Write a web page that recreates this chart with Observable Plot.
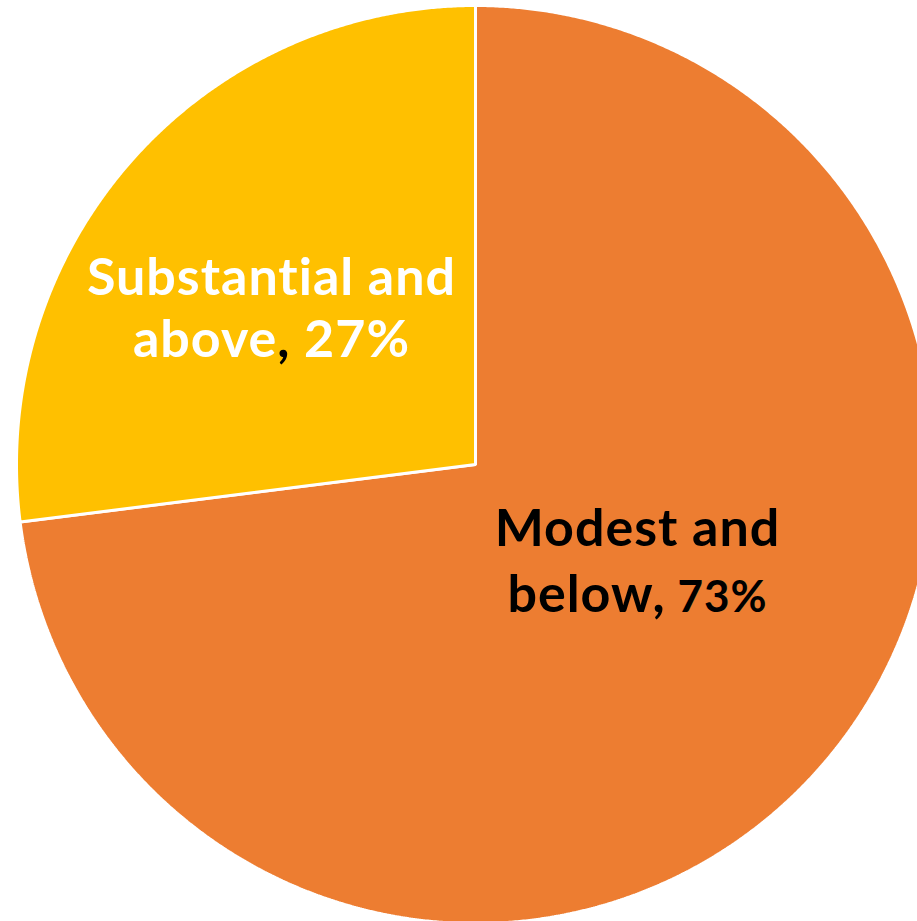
<!DOCTYPE html>
<html><head><meta charset="utf-8">
<script src="https://cdn.jsdelivr.net/npm/d3@7"></script>
<script src="https://cdn.jsdelivr.net/npm/@observablehq/plot@0.6"></script>
<style>
html,body{margin:0;padding:0;background:#fff;overflow:hidden;}
#chart svg{display:block;}
#chart text{font-variant-ligatures:none;letter-spacing:1px;}
</style></head><body><div id="chart"></div>
<script>
// ---- data ----
const categories = ["Modest and below", "Substantial and above"];
const shares = [73, 27];
const sliceColors = ["#ED7D31", "#FFC000"];
const labelLines = [["Modest and", "below, 73%"], ["Substantial and", "above, 27%"]];

// ---- layout ----
const W = 917, H = 921, cx = 475, cy = 464, R = 459;
const FONT = "Lato, 'Open Sans', sans-serif";

const slices = categories.map((c, i) => ({category: c, share: shares[i], color: sliceColors[i]}));
const arcs = d3.pie().sort(null).value(d => d.share)(slices);
const pts = [];
for (const a of arcs) {
  pts.push({category: a.data.category, x: 0, y: 0});
  const n = Math.ceil((a.endAngle - a.startAngle) / (Math.PI / 720));
  for (let k = 0; k <= n; k++) {
    const t = a.startAngle + (a.endAngle - a.startAngle) * k / n;
    pts.push({category: a.data.category, x: Math.sin(t), y: Math.cos(t)});
  }
}

// label anchor pixel positions (center x, baseline y) per line
const labelPos = {
  "Modest and below": [[637, 545], [637, 611]],
  "Substantial and above": [[271, 294], [271, 356]]
};
const labelData = [];
categories.forEach((c, i) => {
  labelLines[i].forEach((line, j) => {
    const [px, py] = labelPos[c][j];
    labelData.push({category: c, text: line, x: (px - cx) / R, y: (cy - py) / R,
      fill: c === "Substantial and above" ? "#ffffff" : "#000000"});
  });
});

const chart = Plot.plot({
  width: W, height: H,
  margin: 0,
  x: {domain: [-cx / R, (W - cx) / R], axis: null},
  y: {domain: [-(H - cy) / R, cy / R], axis: null},
  color: {domain: categories, range: sliceColors},
  marks: [
    Plot.line(pts, {x: "x", y: "y", z: "category", fill: "category", stroke: "#ffffff",
      strokeWidth: 3, strokeLinejoin: "miter", curve: "linear-closed"}),
    Plot.text(labelData, {x: "x", y: "y", text: "text", fill: d => d.fill, fontSize: 52,
      fontWeight: "bold", fontFamily: FONT, textAnchor: "middle", lineAnchor: "bottom"})
  ]
});
document.getElementById("chart").appendChild(chart);

// style comma / percentage parts
chart.querySelectorAll("text").forEach(t => {
  const s = t.textContent;
  const m = s.match(/^(.*?)(,)( \d+%)$/);
  if (!m) return;
  const white = t.getAttribute("fill") === "#ffffff" || t.getAttribute("fill") === "rgb(255, 255, 255)";
  t.textContent = "";
  const ns = "http://www.w3.org/2000/svg";
  const a = document.createElementNS(ns, "tspan"); a.textContent = m[1];
  const b = document.createElementNS(ns, "tspan"); b.textContent = m[2]; b.setAttribute("fill", "#000000");
  const c = document.createElementNS(ns, "tspan"); c.textContent = m[3];
  if (!white) c.setAttribute("font-size", 44);
  t.append(a, b, c);
});
</script>
</body></html>
